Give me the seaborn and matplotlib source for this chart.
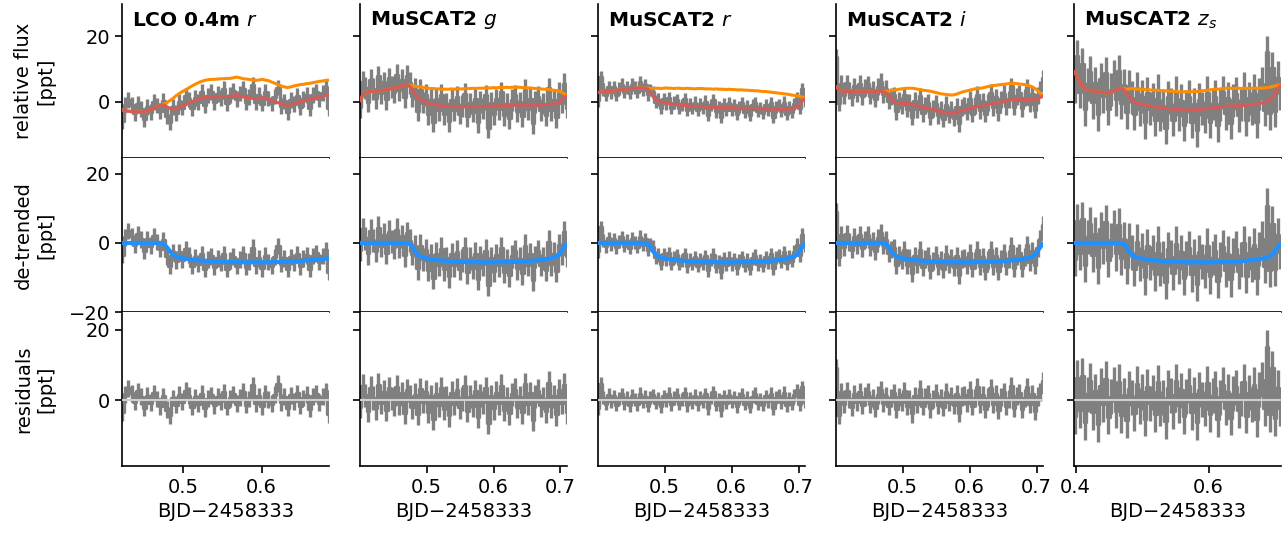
import numpy as np
import matplotlib
matplotlib.use("Agg")
import matplotlib.pyplot as plt
import seaborn as sns

# ---------------- data ----------------
titles = [r"$\mathbf{LCO\ 0.4m}\ r$", r"$\mathbf{MuSCAT2}\ g$", r"$\mathbf{MuSCAT2}\ r$",
          r"$\mathbf{MuSCAT2}\ i$", r"$\mathbf{MuSCAT2}\ z_s$"]
t_start = [0.4214, 0.4005, 0.4005, 0.4005, 0.3985]
t_end = [0.6862, 0.7095, 0.7095, 0.7095, 0.7075]
xlims = [(0.4214, 0.6862), (0.4003, 0.7097), (0.4003, 0.7097), (0.4003, 0.7097), (0.3978, 0.7088)]
xticks = [[0.5, 0.6], [0.5, 0.6, 0.7], [0.5, 0.6, 0.7], [0.5, 0.6, 0.7], [0.4, 0.6]]
xticklabels = [["0.5", "0.6"], ["0.5", "0.6", "0.7"], ["0.5", "0.6", "0.7"],
               ["0.5", "0.6", "0.7"], ["0.4", "0.6"]]
errs = [2.4, 3.3, 1.9, 2.6, 5.0]
row_labels = ["relative flux\n[ppt]", "de-trended\n[ppt]", "residuals\n[ppt]"]
row_ylims = [(-17.2, 29.8), (-20.0, 24.6), (-18.8, 25.1)]
yticks = [-20, 0, 20]
yticklabels = ["\u221220", "0", "20"]

# transit model, LCO time grid (66 points)
transit_lco = [0, 0, 0, 0, 0, 0, 0, 0, 0, 0,
               0, 0, 0, -0.3, -1.1, -2.3, -3.3, -3.9, -4.2, -4.4,
               -4.57, -4.7, -4.82, -4.92, -5.0, -5.1, -5.17, -5.23, -5.29, -5.34,
               -5.38, -5.42, -5.46, -5.49, -5.52, -5.54, -5.56, -5.58, -5.59, -5.6,
               -5.6, -5.6, -5.6, -5.6, -5.59, -5.58, -5.57, -5.55, -5.53, -5.5,
               -5.47, -5.43, -5.39, -5.35, -5.3, -5.25, -5.19, -5.13, -5.06, -4.99,
               -4.91, -4.83, -4.74, -4.64, -4.55, -4.45]
# transit model, MuSCAT2 time grid (80 points)
transit_m2 = [0, 0, 0, 0, 0, 0, 0, 0, 0, 0,
              0, 0, 0, 0, 0, 0, 0, 0, 0, -0.3,
              -1.2, -2.4, -3.4, -3.9, -4.2, -4.4, -4.55, -4.68, -4.8, -4.9,
              -4.98, -5.06, -5.13, -5.2, -5.26, -5.31, -5.36, -5.4, -5.44, -5.47,
              -5.5, -5.52, -5.54, -5.56, -5.57, -5.58, -5.59, -5.6, -5.6, -5.6,
              -5.6, -5.6, -5.59, -5.58, -5.57, -5.56, -5.54, -5.52, -5.5, -5.47,
              -5.44, -5.4, -5.36, -5.31, -5.26, -5.2, -5.13, -5.06, -4.98, -4.9,
              -4.8, -4.68, -4.55, -4.4, -4.2, -3.9, -3.4, -2.4, -1.2, -0.3]

# systematics (baseline) models
sys_lco_r = [-2.5, -2.7, -2.9, -3.0, -3.1, -3.2, -3.2, -3.0, -2.8, -2.4,
             -2.0, -1.5, -1.0, -0.7, -0.4, 0.3, 1.0, 1.8, 2.5, 3.1,
             3.6, 4.2, 4.8, 5.3, 5.8, 6.2, 6.5, 6.7, 6.8, 6.8,
             6.9, 7.0, 7.0, 7.1, 7.1, 7.3, 7.5, 7.3, 7.0, 6.9,
             6.8, 6.6, 6.5, 6.6, 6.8, 6.6, 6.4, 6.0, 5.6, 5.2,
             4.8, 4.5, 4.3, 4.5, 4.8, 5.0, 5.2, 5.3, 5.5, 5.6,
             5.8, 6.0, 6.2, 6.3, 6.5, 6.6]
sys_m2_g = [0.3, 2.0, 2.8, 3.0, 3.1, 3.2, 3.3, 3.3, 3.4, 3.5,
            3.7, 3.8, 4.0, 4.2, 4.3, 4.5, 4.8, 5.0, 5.1, 5.0,
            4.8, 4.7, 4.6, 4.5, 4.4, 4.2, 4.1, 4.0, 4.0, 3.9,
            3.9, 3.8, 3.8, 3.8, 3.8, 3.9, 3.8, 3.9, 3.9, 3.9,
            3.9, 4.0, 4.0, 4.1, 4.0, 4.1, 4.1, 4.1, 4.2, 4.2,
            4.2, 4.3, 4.2, 4.3, 4.3, 4.3, 4.4, 4.3, 4.4, 4.4,
            4.4, 4.4, 4.3, 4.3, 4.2, 4.2, 4.1, 4.0, 3.9, 3.9,
            3.8, 3.8, 3.7, 3.6, 3.5, 3.4, 3.2, 2.9, 2.4, 2.0]
sys_m2_r = [2.8, 2.9, 3.0, 3.1, 3.1, 3.2, 3.3, 3.4, 3.5, 3.6,
            3.8, 3.9, 4.0, 4.0, 4.1, 4.1, 4.2, 4.2, 4.1, 4.1,
            4.0, 4.0, 4.1, 4.1, 4.0, 4.1, 4.2, 4.1, 4.1, 4.0,
            4.1, 4.1, 4.0, 4.0, 4.1, 4.0, 4.0, 3.9, 4.0, 4.0,
            4.0, 3.9, 3.9, 3.9, 3.8, 3.9, 3.8, 3.8, 3.8, 3.7,
            3.8, 3.7, 3.7, 3.6, 3.6, 3.6, 3.5, 3.5, 3.4, 3.4,
            3.3, 3.3, 3.2, 3.1, 3.1, 3.0, 2.9, 2.8, 2.7, 2.6,
            2.5, 2.4, 2.3, 2.2, 2.0, 1.9, 1.8, 1.6, 1.4, 1.2]
sys_m2_i = [4.5, 3.8, 3.3, 3.1, 3.0, 3.1, 3.2, 3.0, 2.9, 3.0,
            3.1, 3.2, 3.0, 2.9, 3.0, 3.1, 3.2, 3.1, 3.0, 3.1,
            3.2, 3.4, 3.5, 3.6, 3.8, 3.9, 4.0, 4.1, 4.1, 4.1,
            4.0, 3.8, 3.7, 3.5, 3.4, 3.3, 3.2, 3.0, 2.8, 2.6,
            2.4, 2.3, 2.2, 2.1, 2.0, 2.1, 2.3, 2.6, 2.9, 3.1,
            3.3, 3.5, 3.7, 3.9, 4.0, 4.1, 4.2, 4.4, 4.6, 4.8,
            4.9, 5.0, 5.1, 5.2, 5.3, 5.4, 5.5, 5.6, 5.6, 5.5,
            5.4, 5.3, 5.2, 5.0, 4.8, 4.5, 4.0, 3.3, 2.5, 2.0]
sys_m2_z = [9.1, 7.6, 6.0, 4.6, 4.0, 3.6, 3.4, 3.3, 3.1, 3.0,
            2.9, 2.8, 2.7, 2.7, 2.8, 3.2, 3.7, 4.1, 4.1, 3.9,
            3.8, 3.9, 4.0, 3.9, 3.8, 3.8, 3.8, 3.7, 3.6, 3.6,
            3.5, 3.5, 3.4, 3.4, 3.3, 3.3, 3.2, 3.2, 3.1, 3.1,
            3.0, 3.0, 3.0, 3.0, 3.0, 3.0, 3.1, 3.1, 3.2, 3.3,
            3.4, 3.5, 3.6, 3.7, 3.8, 3.8, 3.9, 4.0, 4.1, 4.1,
            4.1, 4.0, 4.1, 4.1, 4.0, 4.1, 4.1, 4.0, 4.1, 4.1,
            4.1, 4.1, 4.2, 4.2, 4.3, 4.4, 4.6, 4.8, 5.0, 5.1]

# residuals
res_lco_r = [-3.5, 1.6, 3.4, 1.9, -0.5, 2.5, 1.0, -2.2, 1.2, -0.8,
             2.0, 0.3, -1.8, 1.1, -2.8, -4.3, 0.6, -1.3, 1.5, -0.5,
             2.7, 1.2, -1.9, 0.8, -1.0, 1.8, -2.4, 0.4, 1.4, -1.5,
             0.9, -0.4, 2.3, -2.0, 0.5, 1.6, -1.1, 0.8, 2.4, -1.4,
             0.3, 4.2, -0.9, 1.1, -1.8, 1.9, 0.1, -1.0, 1.5, 4.6,
             -0.6, 1.0, -2.2, 1.3, -0.3, 2.0, -1.6, 0.6, 1.5, -2.5,
             1.1, 1.8, -0.8, 0.9, 2.5, -4.0]
res_m2_g = [-1.9, 4.0, 1.3, -3.0, 3.5, 0.6, -2.3, 4.4, -0.8, 2.4,
            -2.8, 3.3, 0.5, -1.3, 3.8, -1.0, 1.9, -3.6, 2.8, 0.9,
            -2.0, 1.5, -3.9, 3.1, -0.5, 2.3, -3.3, 1.1, -5.3, 1.8,
            -1.4, 3.4, -2.5, 0.8, -4.4, 2.0, -1.1, 2.9, -2.1, 0.3,
            3.9, -3.0, 1.0, -1.6, 2.5, -4.8, 1.4, -0.6, 3.3, -6.5,
            1.1, -2.4, 2.1, -0.9, 4.1, -2.8, 0.5, -3.8, 1.6, 3.0,
            -1.9, 0.8, -3.4, 4.5, -1.1, 1.9, -5.6, 1.0, 2.6, -1.5,
            0.4, -3.1, 4.9, -1.8, 1.1, -4.1, 2.8, -0.8, 4.3, -3.5]
res_m2_r = [-2.4, 4.6, 0.7, -1.0, 1.4, -0.4, 1.1, -1.3, 0.5, 1.6,
            -0.8, 0.6, -1.4, 1.2, 0.2, -1.1, 1.8, -0.5, 1.0, -1.6,
            0.7, 1.3, -0.7, 0.4, -1.8, 1.1, -0.2, 1.7, -1.2, 0.6,
            1.4, -1.0, 0.1, 1.9, -1.4, 0.5, -0.6, 1.2, -1.1, 0.8,
            -0.4, 1.6, -2.4, 0.7, 2.2, -1.3, 0.2, -2.8, 1.1, -0.7,
            1.3, -0.5, 0.8, -1.7, 0.4, 1.4, -1.0, 0.6, -1.9, 1.0,
            1.7, -0.8, 0.2, -1.3, 1.1, -0.4, 1.8, -2.3, 0.7, 1.2,
            -0.6, 2.0, -1.4, 0.5, -1.0, 1.3, 2.8, -1.2, 3.6, -0.5]
res_m2_i = [9.0, -4.2, 2.2, -1.2, 2.6, 0.4, -1.9, 1.7, -0.5, 2.4,
            -1.4, 1.0, 2.3, -1.1, 0.6, -2.2, 1.4, 2.9, -0.7, 1.1,
            -1.7, 0.5, 1.9, -2.6, 0.8, -0.6, 2.5, -1.6, 0.4, -3.8,
            1.2, -1.0, 3.1, -1.8, 0.7, 1.6, -2.4, 0.2, 2.0, -1.3,
            0.6, -2.0, 2.4, -0.5, 1.1, -1.4, 1.8, -3.6, 1.0, 1.3,
            -0.8, 2.8, -1.8, 0.5, 3.6, -1.2, 1.4, -2.5, 0.7, 3.4,
            -1.1, 1.7, -2.9, 0.8, 2.3, -1.6, 0.4, 4.1, -2.2, 1.1,
            1.9, -2.6, 0.6, 3.8, -1.2, 1.6, -3.0, 1.0, 2.4, 5.4]
res_m2_z = [-4.6, 6.3, -2.9, 6.9, -6.3, 1.7, 5.5, -3.5, 2.5, -6.9,
            4.0, -1.2, 6.0, -4.8, 0.9, 4.5, -3.0, 5.2, -4.4, 1.4,
            -5.8, 3.2, 0.6, -3.7, 4.6, -1.7, 2.3, -5.3, 3.8, -0.9,
            2.2, -4.0, 5.1, -2.3, 0.7, -6.0, 3.5, 1.3, -3.2, 5.3,
            -1.4, 2.8, -4.6, 1.0, 4.1, -3.5, 1.7, -6.3, 3.0, 0.2,
            -2.5, 4.8, -4.1, 1.2, 3.3, -5.5, 0.8, 4.4, -2.2, 2.4,
            -5.1, 1.8, 3.7, -2.9, 0.5, 5.2, -4.5, 2.1, -1.2, 4.3,
            -5.4, 2.9, 5.8, -2.3, 15.0, -4.0, 9.0, -5.2, 3.5, -2.3]

transits = [transit_lco, transit_m2, transit_m2, transit_m2, transit_m2]
systematics = [sys_lco_r, sys_m2_g, sys_m2_r, sys_m2_i, sys_m2_z]
residuals = [res_lco_r, res_m2_g, res_m2_r, res_m2_i, res_m2_z]

# ---------------- style ----------------
sns.set_style("ticks")
plt.rcParams["font.family"] = ["DejaVu Sans"]
plt.rcParams["mathtext.fontset"] = "dejavusans"
for k in ["text.color", "axes.labelcolor", "xtick.color", "ytick.color", "axes.edgecolor"]:
    plt.rcParams[k] = "black"
FS = 14

GRAY = "#808080"
ORANGE = "#ff8c00"
RED = "#d65a55"
BLUE = "#1e90ff"


def draw_data(ax, t, y, e):
    ax.errorbar(t, y, yerr=e, fmt="none", ecolor=GRAY, elinewidth=2.4, capsize=0, zorder=1)
    ax.plot(t, y, color=GRAY, lw=2.4, drawstyle="steps-mid", zorder=1)


fig = plt.figure(figsize=(12.84, 5.36), dpi=100)
gs = fig.add_gridspec(3, 5, left=0.095, right=0.9977, top=0.9925, bottom=0.1306,
                      wspace=0.15, hspace=0.0)
axes = np.empty((3, 5), dtype=object)
for r in range(3):
    for c in range(5):
        axes[r, c] = fig.add_subplot(gs[r, c])

for c in range(5):
    tr = np.array(transits[c])
    sy = np.array(systematics[c])
    rs = np.array(residuals[c])
    t = np.linspace(t_start[c], t_end[c], len(rs))
    detr = tr + rs
    raw = detr + sy
    full = sy + tr
    e = errs[c]

    # row 1: raw flux with models
    ax = axes[0, c]
    draw_data(ax, t, raw, e)
    sns.lineplot(x=t, y=sy, ax=ax, color=ORANGE, lw=2.2, estimator=None, sort=False, zorder=3)
    sns.lineplot(x=t, y=full, ax=ax, color=RED, lw=2.2, estimator=None, sort=False, zorder=4)
    ax.text(0.05, 0.895, titles[c], transform=ax.transAxes, fontsize=14.5,
            ha="left", va="center")

    # row 2: detrended with transit model
    ax = axes[1, c]
    draw_data(ax, t, detr, e)
    sns.lineplot(x=t, y=tr, ax=ax, color=BLUE, lw=3.0, estimator=None, sort=False, zorder=3)

    # row 3: residuals
    ax = axes[2, c]
    draw_data(ax, t, rs, e)
    sns.lineplot(x=[t[0], t[-1]], y=[0, 0], ax=ax, color="#d0d0d0", lw=1.5,
                 estimator=None, sort=False, zorder=3)

    for r in range(3):
        ax = axes[r, c]
        ax.set_yticks(yticks)
        ax.set_yticklabels(yticklabels if c == 0 else ["", "", ""])
        ax.set_xticks(xticks[c])
        ax.set_xticklabels(xticklabels[c])
        ax.set_xlim(*xlims[c])
        ax.set_ylim(*row_ylims[r])
        ax.tick_params(labelsize=FS, length=5, width=1.2)
        for s in ["top", "right"]:
            ax.spines[s].set_visible(False)
        for s in ["left", "bottom"]:
            ax.spines[s].set_linewidth(1.2)
        if r < 2:
            ax.tick_params(axis="x", bottom=False, labelbottom=False)
        else:
            ax.set_xlabel("BJD\u22122458333", fontsize=FS)
        if c == 0:
            ax.set_ylabel(row_labels[r], fontsize=FS, labelpad=10)

fig.align_ylabels(axes[:, 0])
fig.savefig("out.png", dpi=100)
